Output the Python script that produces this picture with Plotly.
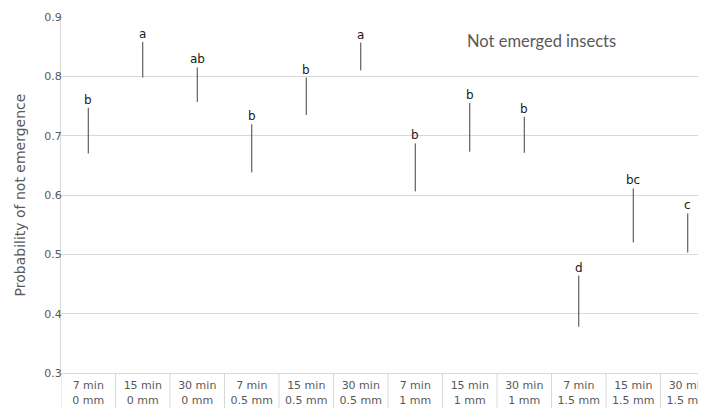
import plotly.graph_objects as go

treatments = ["7 min<br>0 mm", "15 min<br>0 mm", "30 min<br>0 mm",
              "7 min<br>0.5 mm", "15 min<br>0.5 mm", "30 min<br>0.5 mm",
              "7 min<br>1 mm", "15 min<br>1 mm", "30 min<br>1 mm",
              "7 min<br>1.5 mm", "15 min<br>1.5 mm", "30 min<br>1.5 mm"]
upper = [0.747, 0.858, 0.815, 0.719, 0.798, 0.857, 0.687, 0.755, 0.732, 0.464, 0.611, 0.569]
lower = [0.670, 0.798, 0.757, 0.638, 0.735, 0.810, 0.606, 0.673, 0.671, 0.378, 0.520, 0.503]
letters = ["b", "a", "ab", "b", "b", "a", "b", "b", "b", "d", "bc", "c"]
y_ticks = [0.3, 0.4, 0.5, 0.6, 0.7, 0.8, 0.9]

FONT = "DejaVu Sans, Verdana, sans-serif"

xs, ys = [], []
for t, lo, hi in zip(treatments, lower, upper):
    xs += [t, t, None]
    ys += [lo, hi, None]

OFF = 8  # page body margin
W, H = 706 - OFF, 408 - OFF
L, T = 61 - OFF, 17 - OFF
B = H - (373 - OFF)
plot_w = W - L
plot_h = H - T - B
cat_w = 54.5

fig = go.Figure()
fig.add_trace(go.Scatter(x=xs, y=ys, mode="lines",
                         line=dict(color="#404040", width=1),
                         showlegend=False, hoverinfo="skip"))

for t, hi, lab in zip(treatments, upper, letters):
    fig.add_annotation(x=t, y=hi, text=lab, showarrow=False,
                       yanchor="bottom", yshift=-1,
                       font=dict(family=FONT, size=12, color="#1a1a1a"))

fig.add_annotation(x=(541 - 61) / plot_w, y=1 - (41 - 17) / plot_h,
                   xref="paper", yref="paper", text="Not emerged insects",
                   xanchor="center", yanchor="middle",
                   showarrow=False, font=dict(family="Lato", size=16.5, color="#595959"))

# category dividers below axis
for k in range(len(treatments) + 1):
    fig.add_shape(type="line", xref="x", yref="paper", x0=k - 0.5, x1=k - 0.5,
                  y0=0, y1=-0.12, line=dict(color="#d9d9d9", width=1))

fig.update_layout(
    width=W, height=H,
    margin=dict(l=L, r=0, t=T, b=B),
    plot_bgcolor="white", paper_bgcolor="white",
    xaxis=dict(type="category", categoryorder="array", categoryarray=treatments,
               range=[-0.5, -0.5 + plot_w / cat_w], automargin=False,
               showgrid=False, showline=True, linecolor="#d9d9d9", linewidth=1,
               ticks="", ticklabelstandoff=2,
               tickfont=dict(family=FONT, size=11, color="#595959"),
               tickangle=0, zeroline=False),
    yaxis=dict(range=[0.3, 0.9], tickvals=y_ticks, ticktext=[f"{v:.1f}" for v in y_ticks],
               automargin=False, ticklabelstandoff=-4,
               showgrid=True, gridcolor="#d9d9d9", gridwidth=1,
               showline=True, linecolor="#d9d9d9", zeroline=False,
               tickfont=dict(family=FONT, size=11, color="#595959"),
               title=dict(text="Probability of not emergence",
                          font=dict(family=FONT, size=14, color="#595959"))),
)
fig.write_html("out.html")
